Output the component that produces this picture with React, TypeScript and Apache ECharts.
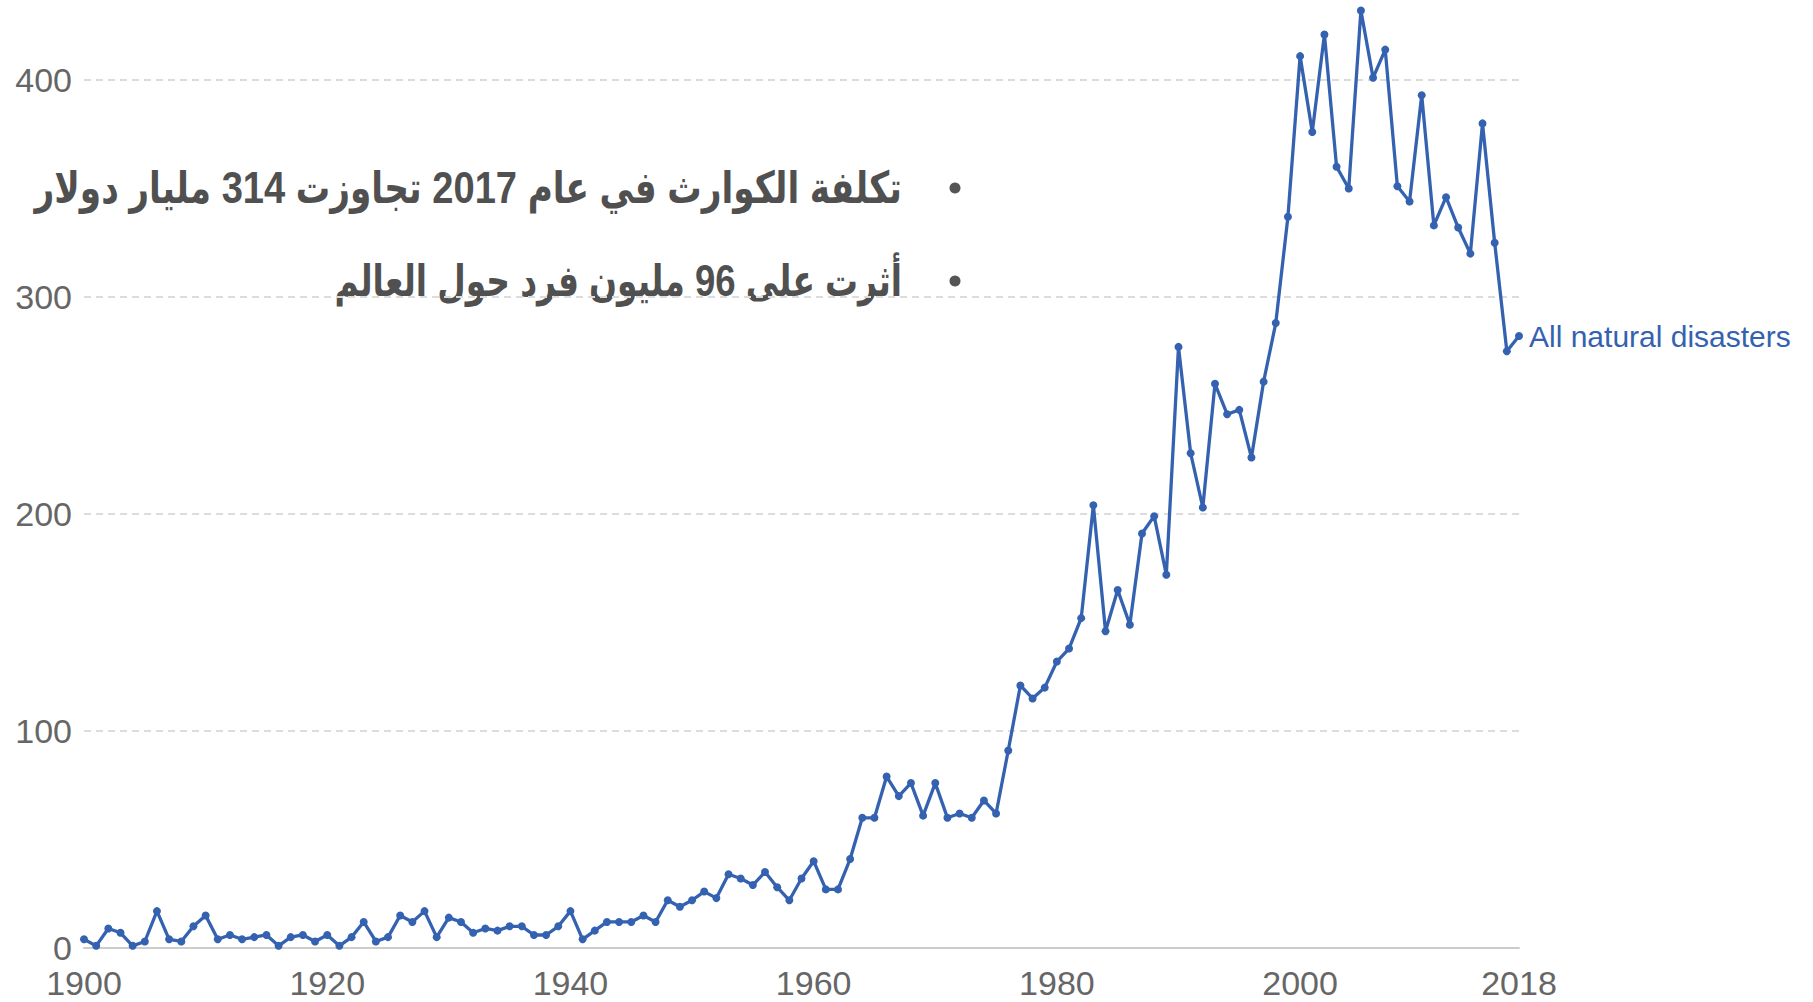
import React, { useEffect, useRef } from "react";
import * as echarts from "echarts";

const START_YEAR = 1900;
const disasterCounts: number[] = [
  4, 1, 9, 7, 1, 3, 17, 4, 3, 10,
  15, 4, 6, 4, 5, 6, 1, 5, 6, 3,
  6, 1, 5, 12, 3, 5, 15, 12, 17, 5,
  14, 12, 7, 9, 8, 10, 10, 6, 6, 10,
  17, 4, 8, 12, 12, 12, 15, 12, 22, 19,
  22, 26, 23, 34, 32, 29, 35, 28, 22, 32,
  40, 27, 27, 41, 60, 60, 79, 70, 76, 61,
  76, 60, 62, 60, 68, 62, 91, 121, 115, 120,
  132, 138, 152, 204, 146, 165, 149, 191, 199, 172,
  277, 228, 203, 260, 246, 248, 226, 261, 288, 337,
  411, 376, 421, 360, 350, 432, 401, 414, 351, 344,
  393, 333, 346, 332, 320, 380, 325, 275, 282,
];
const years: number[] = disasterCounts.map((_, i) => START_YEAR + i);
const xTickYears: number[] = [1900, 1920, 1940, 1960, 1980, 2000, 2018];
const yTicks: number[] = [0, 100, 200, 300, 400];
const seriesName = "All natural disasters";
const bulletLines: string[] = [
  "تكلفة الكوارث في عام 2017 تجاوزت 314 مليار دولار",
  "أثرت على 96 مليون فرد حول العالم",
];

const BLUE = "#3462b0";
const FONT = "'Liberation Sans', Arial, sans-serif";
const AR_FONT = "'Liberation Sans', 'DejaVu Sans Condensed', 'DejaVu Sans', sans-serif";

export default function App() {
  const ref = useRef<HTMLDivElement>(null);
  useEffect(() => {
    document.body.style.margin = "0";
    if (!ref.current) return;
    const chart = echarts.init(ref.current, undefined, { renderer: "svg" });
    const lineYs = [188, 281];
    const lineScales = [0.866, 0.83];
    const graphic: any[] = [];
    bulletLines.forEach((t, i) => {
      graphic.push({
        type: "circle",
        shape: { cx: 955, cy: lineYs[i], r: 5.5 },
        style: { fill: "#555555" },
      });
      graphic.push({
        type: "text",
        x: 902,
        y: lineYs[i],
        scaleX: lineScales[i],
        style: {
          text: t,
          fill: "#505050",
          fontSize: 44,
          fontWeight: "bold",
          fontFamily: AR_FONT,
          align: "right",
          verticalAlign: "middle",
          textAlign: "right",
          textVerticalAlign: "middle",
        },
      });
    });
    chart.setOption({
      animation: false,
      backgroundColor: "#ffffff",
      grid: { left: 84, right: 294, top: 80, bottom: 54, containLabel: false },
      xAxis: {
        type: "value",
        min: 1900,
        max: 2018,
        interval: 1,
        axisLine: { show: true, lineStyle: { color: "#cccccc", width: 2 } },
        axisTick: { show: false },
        splitLine: { show: false },
        axisLabel: {
          fontSize: 34,
          color: "#666666",
          fontFamily: FONT,
          margin: 18,
          formatter: (v: number) => (xTickYears.includes(v) ? String(v) : ""),
        },
      },
      yAxis: {
        type: "value",
        min: yTicks[0],
        max: yTicks[yTicks.length - 1],
        interval: 100,
        axisLine: { show: false },
        axisTick: { show: false },
        splitLine: { show: true, lineStyle: { color: "#dcdcdc", width: 2, type: [7, 5] } },
        axisLabel: { fontSize: 34, color: "#666666", fontFamily: FONT, margin: 12 },
      },
      graphic,
      series: [
        {
          name: seriesName,
          type: "line",
          data: years.map((y, i) => [y, disasterCounts[i]]),
          symbol: "circle",
          symbolSize: 8,
          showSymbol: true,
          clip: false,
          lineStyle: { color: BLUE, width: 3.3 },
          itemStyle: { color: BLUE },
          endLabel: {
            show: true,
            formatter: seriesName,
            color: BLUE,
            fontSize: 30,
            fontFamily: FONT,
            distance: 10,
          },
        },
      ],
    });
    return () => chart.dispose();
  }, []);
  return <div ref={ref} style={{ width: 1813, height: 1002 }} />;
}
